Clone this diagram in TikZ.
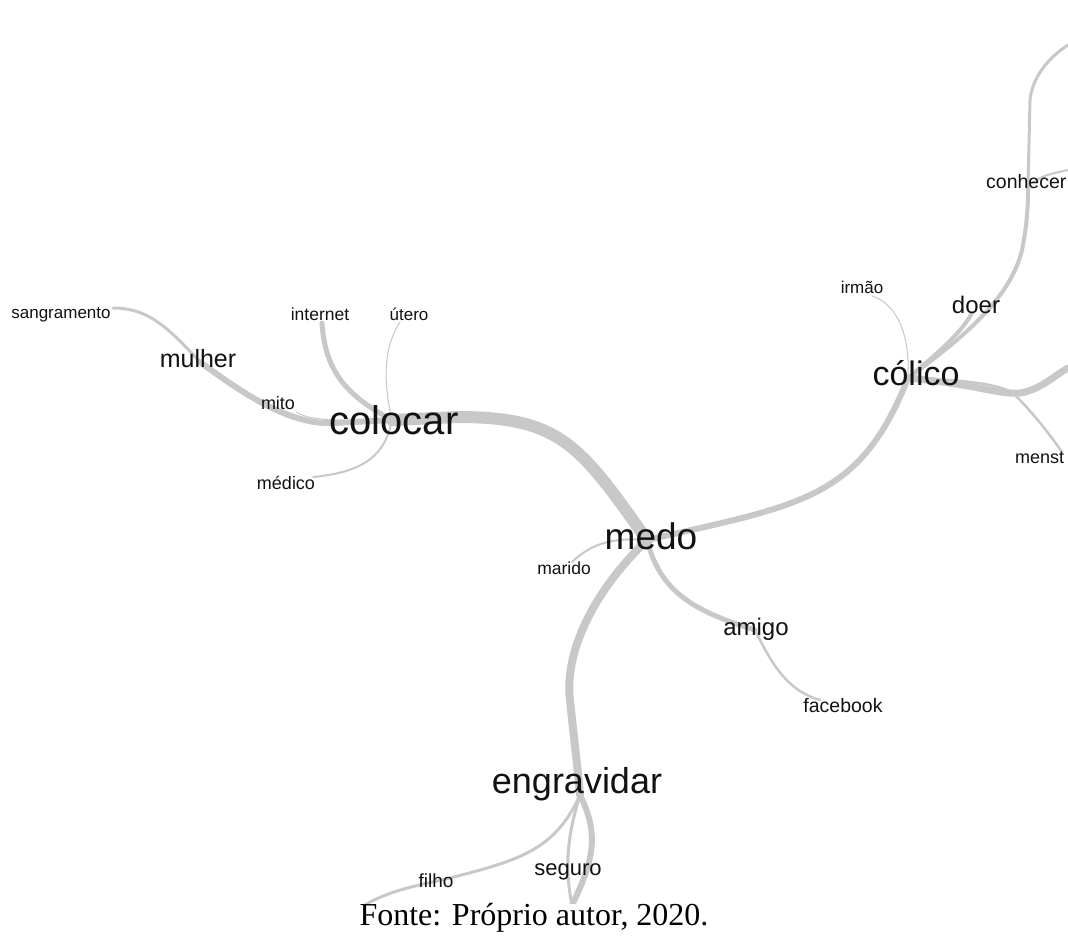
\documentclass[tikz,border=0pt]{standalone}
\usepackage{fontspec}
\setmainfont{Liberation Serif}
\newfontfamily\arialf{Liberation Sans}
\definecolor{edgegray}{RGB}{200,200,200}
\definecolor{ink}{RGB}{18,18,18}
\newcommand\wfs[1]{\fontsize{#1}{#1}\selectfont}
\begin{document}
\begin{tikzpicture}[x=1pt,y=-1pt,
  edge/.style={draw=edgegray, line cap=round, line join=round},
  lbl/.style={anchor=base, inner sep=0pt, text=ink, font=\arialf},
]
\useasboundingbox (0,0) rectangle (1068,935);
\fill[white] (0,0) rectangle (1068,935);

% hubs
\coordinate (hMedo) at (647,540);
\coordinate (hColocar) at (392,420);
\coordinate (hMulher) at (200,362);
\coordinate (hColico) at (908,378);
\coordinate (hEngr) at (580,795);
\coordinate (hConh) at (1028,185);
\coordinate (hAmigo) at (755,630);
% free ends
\coordinate (eSang) at (113,308);
\coordinate (eInternet) at (322,323);
\coordinate (eUtero) at (400,322);
\coordinate (eMito) at (296,412);
\coordinate (eMedico) at (313,477);
\coordinate (eMarido) at (572,562);
\coordinate (eFace) at (820,700);
\coordinate (eIrmao) at (872,296);
\coordinate (eDoer) at (972,313);
\coordinate (eMenst) at (1062,452);
\coordinate (eRight) at (1068,368);
\coordinate (eTop) at (1068,45);
\coordinate (eConhR) at (1068,170);
\coordinate (eFilho) at (365,905);
\coordinate (eBottom) at (572,905);

\begin{scope}
\clip (0,0) rectangle (1068,903);
% edges
\draw[edge, line width=12] (hColocar) -- (458,417) .. controls (560,417) and (580,445) .. (hMedo);
\draw[edge, line width=6] (hMedo) .. controls (800,505) and (860,500) .. (hColico);
\draw[edge, line width=8] (hMedo) .. controls (585,600) and (565,660) .. (570,700) .. controls (574,740) and (578,770) .. (hEngr);
\draw[edge, line width=5] (hMedo) .. controls (660,590) and (690,610) .. (hAmigo);
\draw[edge, line width=2] (eMarido) .. controls (590,545) and (610,537) .. (hMedo);
\draw[edge, line width=2.5] (hAmigo) .. controls (770,660) and (785,690) .. (eFace);

\draw[edge, line width=6] (hColocar) -- (333,423) .. controls (290,425) and (245,395) .. (hMulher);
\draw[edge, line width=3] (hMulher) .. controls (170,330) and (150,308) .. (eSang);
\draw[edge, line width=5] (hColocar) .. controls (345,395) and (325,370) .. (eInternet);
\draw[edge, line width=1] (hColocar) .. controls (384,385) and (382,350) .. (eUtero);
\draw[edge, line width=2] (hColocar) .. controls (385,455) and (365,472) .. (eMedico);
\draw[edge, line width=1] (eMito) .. controls (305,417) and (315,422) .. (hColocar);

\draw[edge, line width=1] (hColico) .. controls (910,340) and (900,305) .. (eIrmao);
\draw[edge, line width=4] (hColico) .. controls (935,355) and (960,335) .. (eDoer);
\draw[edge, line width=4] (hColico) .. controls (960,340) and (1010,300) .. (1022,250) .. controls (1028,220) and (1028,200) .. (hConh);
\draw[edge, line width=3] (hConh) -- (1030,100) .. controls (1032,80) and (1045,60) .. (eTop);
\draw[edge, line width=2] (hConh) .. controls (1045,175) .. (eConhR);
\draw[edge, line width=7] (hColico) .. controls (980,385) and (1000,395) .. (1020,393) .. controls (1040,390) and (1055,375) .. (eRight);
\draw[edge, line width=2.5] (hColico) .. controls (970,380) and (1005,385) .. (1015,395) .. controls (1035,415) and (1050,435) .. (eMenst);

\draw[edge, line width=3] (hEngr) .. controls (555,850) and (520,860) .. (450,878) .. controls (420,885) and (390,890) .. (eFilho);
\draw[edge, line width=6] (hEngr) .. controls (597,830) and (597,855) .. (eBottom);
\draw[edge, line width=3] (hEngr) .. controls (566,840) and (565,870) .. (eBottom);
\end{scope}

% labels
\node[lbl, font=\arialf\wfs{40}] (colocar) at (394,434) {colocar};
\node[lbl, font=\arialf\wfs{37}] (medo) at (651,549) {medo};
\node[lbl, font=\arialf\wfs{36}] (engravidar) at (577,793) {engravidar};
\node[lbl, font=\arialf\wfs{34}] (colico) at (916,385) {cólico};
\node[lbl, font=\arialf\wfs{25}] (mulher) at (198,367) {mulher};
\node[lbl, font=\arialf\wfs{24}] (doer) at (976,313) {doer};
\node[lbl, font=\arialf\wfs{24}] (amigo) at (756,635) {amigo};
\node[lbl, font=\arialf\wfs{22}] (seguro) at (568,875) {seguro};
\node[lbl, font=\arialf\wfs{17}] (sangramento) at (61,318) {sangramento};
\node[lbl, font=\arialf\wfs{17.5}] (internet) at (320,320) {internet};
\node[lbl, font=\arialf\wfs{17}] (utero) at (409,320) {útero};
\node[lbl, font=\arialf\wfs{18}] (mito) at (278,409) {mito};
\node[lbl, font=\arialf\wfs{18}] (medico) at (286,489) {médico};
\node[lbl, font=\arialf\wfs{17.5}] (marido) at (564,574) {marido};
\node[lbl, font=\arialf\wfs{19.5}] (facebook) at (843,712) {facebook};
\node[lbl, font=\arialf\wfs{19}] (filho) at (436,887) {filho};
\node[lbl, font=\arialf\wfs{17}] (irmao) at (862,293) {irmão};
\node[lbl, anchor=base west, font=\arialf\wfs{19.5}] (conhecer) at (986,188) {conhecer};
\node[lbl, anchor=base west, font=\arialf\wfs{18}] (menst) at (1015,463) {menst};

\node[anchor=base, inner sep=0pt, font=\wfs{32}] (caption) at (534,925) {Fonte: Próprio autor, 2020.};
\end{tikzpicture}
\end{document}
